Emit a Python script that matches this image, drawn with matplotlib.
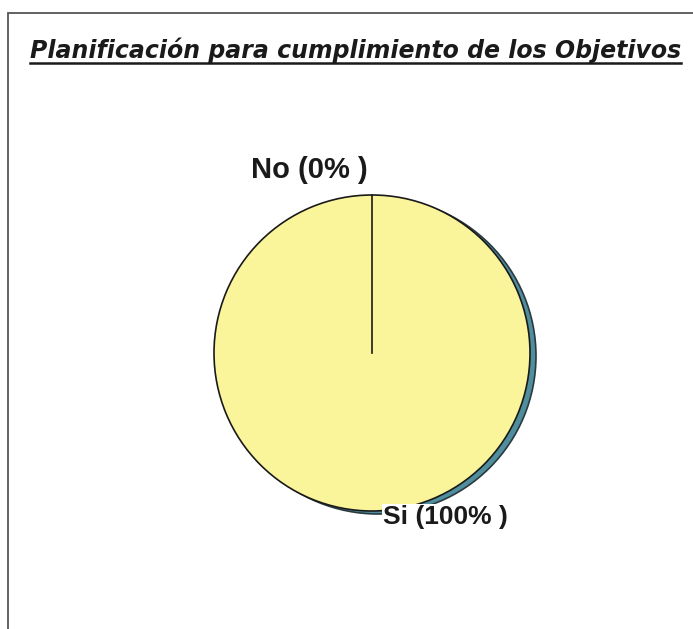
import matplotlib
matplotlib.use('Agg')
import matplotlib.pyplot as plt
import numpy as np
from matplotlib.patches import Circle, Rectangle

# datos de la encuesta
categorias = ['No', 'Si']
valores = [0, 100]
colores = ['#4f8e9c', '#faf59b']
titulo = 'Planificación para cumplimiento de los Objetivos'

W, H = 693, 629
fig = plt.figure(figsize=(W / 100, H / 100), dpi=100)
ax = fig.add_axes([0, 0, 1, 1])

# marco del gráfico (recortado a la derecha y abajo)
ax.add_patch(Rectangle((8, -20), W + 20, H - 13 + 20, fill=False,
                       edgecolor='#555555', lw=1.3))

cx, cy, r = 372, 629 - 353, 158

# sombra
ax.add_patch(Circle((cx + 6, cy - 3), r, facecolor=colores[0], edgecolor='#2a3a40',
                    lw=1.2, zorder=1))

wedges, _ = ax.pie(valores, colors=colores, startangle=90, counterclock=False,
                   center=(cx, cy), radius=r, frame=True,
                   wedgeprops=dict(edgecolor='#1a1a1a', linewidth=1.2))
for w in wedges:
    w.set_zorder(2)

# borde del sector de 0%
ang = np.deg2rad(wedges[0].theta1)
ax.plot([cx, cx + r * np.cos(ang)], [cy, cy + r * np.sin(ang)],
        color='#1a1a1a', lw=1.2, zorder=3)

ax.set_xlim(0, W)
ax.set_ylim(0, H)
ax.set_aspect('equal')
ax.axis('off')

# título subrayado
t = ax.text(30, 571, titulo, fontsize=17, fontweight='bold', fontstyle='italic',
            family='DejaVu Sans', color='#1a1a1a', va='baseline', ha='left')
fig.canvas.draw()
bb = t.get_window_extent().transformed(ax.transData.inverted())
ax.plot([bb.x0, bb.x1], [566, 566], color='#1a1a1a', lw=1.8)

etiquetas = [f'{c} ({v}% )' for c, v in zip(categorias, valores)]
ax.text(cx - 4, cy + r + 17, etiquetas[0], fontsize=21, fontweight='bold',
        family='Liberation Sans', color='#1a1a1a', ha='right', va='baseline', zorder=3)
ax.text(cx + 11, cy - r - 13, etiquetas[1], fontsize=19, fontweight='bold',
        family='Liberation Sans', color='#1a1a1a', ha='left', va='baseline', zorder=3,
        bbox=dict(facecolor='white', edgecolor='none', pad=0.5))

fig.savefig('out.png', dpi=100)
